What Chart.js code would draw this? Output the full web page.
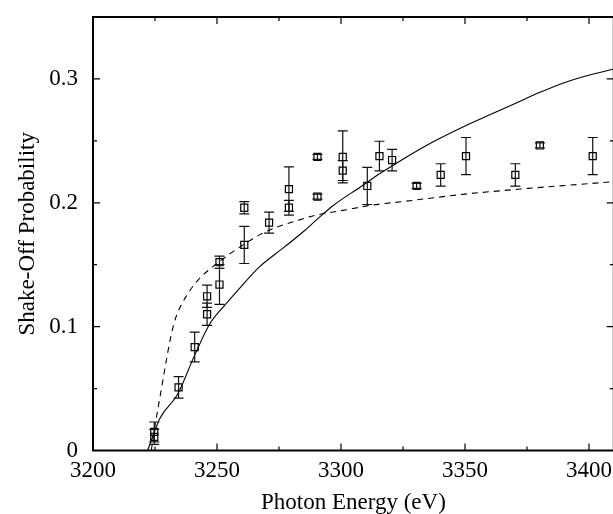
<!DOCTYPE html>
<html>
<head>
<meta charset="utf-8">
<script src="https://cdn.jsdelivr.net/npm/chart.js@4.4.0/dist/chart.umd.min.js"></script>
<style>
  html, body { margin: 0; padding: 0; background: #fff; overflow: hidden; }
  canvas { display: block; }
</style>
</head>
<body>
<canvas id="canvas" width="620" height="514"></canvas>
<script>
// measured points (photon energy, probability, error)
var expX = [3224.7, 3224.7, 3234.5, 3241, 3246, 3246, 3251, 3251, 3261, 3261, 3271, 3279, 3279,
            3290.5, 3290.5, 3300.7, 3300.7, 3310.6, 3315.5, 3320.6, 3330.5, 3340.2, 3350.4, 3370.3, 3380.2, 3401.5];
var expY = [0.011, 0.015, 0.051, 0.0835, 0.110, 0.1245, 0.134, 0.152, 0.166, 0.196, 0.184, 0.196, 0.211,
            0.205, 0.237, 0.226, 0.237, 0.2136, 0.2377, 0.2345, 0.2136, 0.2225, 0.2377, 0.2225, 0.2463, 0.2377];
var expErr = [0.006, 0.008, 0.0087, 0.012, 0.009, 0.009, 0.016, 0.005, 0.015, 0.005, 0.0085, 0.006, 0.018,
              0.002, 0.002, 0.008, 0.021, 0.015, 0.012, 0.0087, 0.002, 0.009, 0.015, 0.009, 0.002, 0.015];

// solid theory curve
var solidX = [3222, 3227, 3234, 3241, 3247, 3253, 3260, 3267, 3277, 3285, 3290, 3297, 3308, 3316, 3324,
              3337, 3350, 3360, 3370, 3380, 3390, 3398, 3410];
var solidY = [0, 0.026, 0.045, 0.077, 0.102, 0.117, 0.133, 0.148, 0.164, 0.177, 0.186, 0.198, 0.213, 0.224, 0.234,
              0.249, 0.262, 0.271, 0.280, 0.289, 0.297, 0.302, 0.308];

// dashed theory curve
var dashX = [3223.5, 3225, 3227, 3229.5, 3231.5, 3233.5, 3236, 3239, 3243, 3250, 3259, 3270, 3283, 3290, 3304, 3312,
             3325, 3350, 3378, 3410];
var dashY = [0, 0.02, 0.043, 0.072, 0.093, 0.108, 0.119, 0.129, 0.139, 0.151, 0.164, 0.177, 0.186, 0.190, 0.195, 0.198,
             0.201, 0.207, 0.212, 0.217];

var xTicks = [3200, 3250, 3300, 3350, 3400];
var yTicks = [0, 0.1, 0.2, 0.3];
var xMinor = [3225, 3275, 3325, 3375];
var yMinor = [0.05, 0.15, 0.25];

function pts(xs, ys) {
  return xs.map(function (x, i) { return { x: x, y: ys[i] }; });
}

var serif = "'Liberation Serif', 'DejaVu Serif', serif";

var errorBars = {
  id: 'errorBars',
  afterDatasetsDraw: function (chart) {
    var ctx = chart.ctx, xs = chart.scales.x, ys = chart.scales.y;
    ctx.save();
    ctx.strokeStyle = '#111';
    ctx.lineWidth = 1.2;
    for (var i = 0; i < expX.length; i++) {
      var px = xs.getPixelForValue(expX[i]);
      var top = ys.getPixelForValue(expY[i] + expErr[i]);
      var bot = ys.getPixelForValue(expY[i] - expErr[i]);
      ctx.beginPath();
      ctx.moveTo(px, top); ctx.lineTo(px, bot);
      ctx.moveTo(px - 5, top); ctx.lineTo(px + 5, top);
      ctx.moveTo(px - 5, bot); ctx.lineTo(px + 5, bot);
      ctx.stroke();
    }
    ctx.restore();
  }
};

var frame = {
  id: 'frame',
  afterDraw: function (chart) {
    var ctx = chart.ctx, a = chart.chartArea, xs = chart.scales.x, ys = chart.scales.y;
    ctx.save();
    ctx.strokeStyle = '#000';
    ctx.lineWidth = 2;
    ctx.strokeRect(a.left, a.top, a.right - a.left, a.bottom - a.top);
    ctx.lineWidth = 1.2;
    ctx.beginPath();
    function xt(v, len) {
      var p = xs.getPixelForValue(v);
      ctx.moveTo(p, a.bottom); ctx.lineTo(p, a.bottom - len);
      ctx.moveTo(p, a.top); ctx.lineTo(p, a.top + len);
    }
    function yt(v, len) {
      var p = ys.getPixelForValue(v);
      ctx.moveTo(a.left, p); ctx.lineTo(a.left + len, p);
      ctx.moveTo(a.right, p); ctx.lineTo(a.right - len, p);
    }
    xTicks.forEach(function (v) { xt(v, 7); });
    xMinor.forEach(function (v) { xt(v, 4); });
    yTicks.forEach(function (v) { yt(v, 7); });
    yMinor.forEach(function (v) { yt(v, 4); });
    ctx.stroke();
    ctx.restore();
  }
};

window.onload = function () {
  var ctx = document.getElementById('canvas').getContext('2d');
  window.myChart = new Chart(ctx, {
    type: 'scatter',
    data: {
      datasets: [{
        label: 'Theory',
        data: pts(solidX, solidY),
        showLine: true,
        borderColor: '#000',
        borderWidth: 1.1,
        pointRadius: 0,
        cubicInterpolationMode: 'monotone'
      }, {
        label: 'Theory (dashed)',
        data: pts(dashX, dashY),
        showLine: true,
        borderColor: '#000',
        borderWidth: 1.1,
        borderDash: [6, 5],
        pointRadius: 0,
        cubicInterpolationMode: 'monotone'
      }, {
        label: 'Experiment',
        data: pts(expX, expY),
        pointStyle: 'rect',
        pointRadius: 5,
        pointBorderWidth: 1.2,
        borderColor: '#000',
        backgroundColor: 'rgba(255,255,255,0)'
      }]
    },
    options: {
      responsive: false,
      animation: false,
      layout: { padding: { top: 17, right: 6, left: 0, bottom: 0 } },
      plugins: { legend: { display: false }, tooltip: { enabled: false } },
      scales: {
        x: {
          type: 'linear',
          min: 3200, max: 3410,
          grid: { display: false, drawTicks: false },
          border: { display: false },
          afterBuildTicks: function (s) { s.ticks = xTicks.map(function (v) { return { value: v }; }); },
          afterFit: function (s) { s.height = 63.5; s.paddingLeft = 0; s.paddingRight = 0; },
          ticks: { color: '#000', padding: 7, maxRotation: 0, font: { family: serif, size: 23 },
                   callback: function (v) { return String(v); } },
          title: { display: true, text: 'Photon Energy (eV)', color: '#000', padding: { top: -3, bottom: -3 },
                   font: { family: serif, size: 23 } }
        },
        y: {
          min: 0, max: 0.35,
          grid: { display: false, drawTicks: false },
          border: { display: false },
          afterBuildTicks: function (s) { s.ticks = yTicks.map(function (v) { return { value: v }; }); },
          afterFit: function (s) { s.width = 93; s.paddingTop = 0; s.paddingBottom = 0; },
          ticks: { color: '#000', padding: 15, font: { family: serif, size: 23 },
                   callback: function (v) { return String(v); } },
          title: { display: true, text: 'Shake-Off Probability', color: '#000', padding: { top: 14, bottom: 14 },
                   font: { family: serif, size: 23 } }
        }
      }
    },
    plugins: [errorBars, frame]
  });
};
</script>
</body>
</html>
